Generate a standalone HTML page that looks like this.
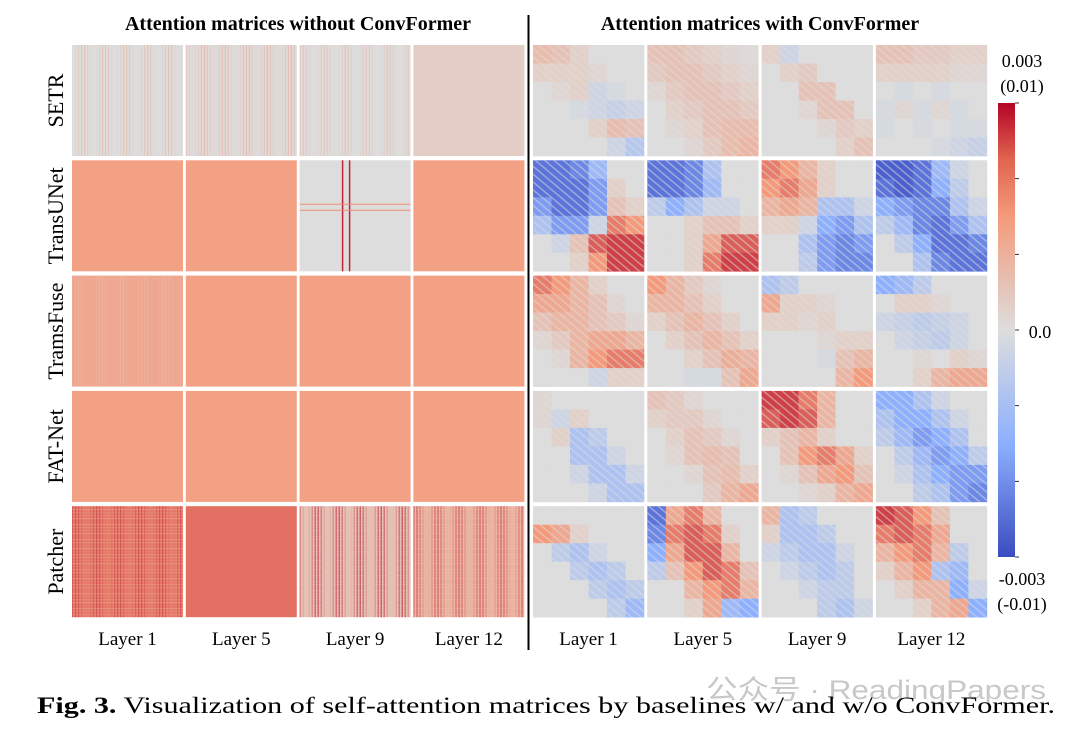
<!DOCTYPE html>
<html><head><meta charset="utf-8"><style>
body{margin:0;background:#fff;width:1080px;height:733px;overflow:hidden}
svg text{font-family:"Liberation Serif",serif}
</style></head><body>
<svg id="fig" width="1080" height="733" viewBox="0 0 1080 733" xmlns="http://www.w3.org/2000/svg">
<defs>
<pattern id="tex" width="6" height="6" patternUnits="userSpaceOnUse" patternTransform="rotate(40)">
<rect x="0" y="0" width="6" height="1.5" fill="#dddddd" opacity="0.5"/>
</pattern>
<linearGradient id="cbar" x1="0" y1="0" x2="0" y2="1">
<stop offset="0" stop-color="#b40426"/><stop offset="0.125" stop-color="#e0654f"/><stop offset="0.25" stop-color="#f49a7b"/>
<stop offset="0.5" stop-color="#dddddd"/><stop offset="0.75" stop-color="#8db0fe"/>
<stop offset="1" stop-color="#3b4cc0"/></linearGradient>
</defs>
<text x="298" y="30" font-size="20" font-weight="bold" text-anchor="middle">Attention matrices without ConvFormer</text>
<text x="760" y="30" font-size="20" font-weight="bold" text-anchor="middle">Attention matrices with ConvFormer</text>
<line x1="528.5" y1="15" x2="528.5" y2="650" stroke="#000" stroke-width="2"/>
<g id="cells"></g>
<rect x="998" y="103" width="17" height="454" fill="url(#cbar)"/>
<g id="cbticks"></g>
<text x="1022" y="67" font-size="18" text-anchor="middle">0.003</text>
<text x="1022" y="92" font-size="18" text-anchor="middle">(0.01)</text>
<text x="1040" y="338" font-size="18" text-anchor="middle">0.0</text>
<text x="1022" y="585" font-size="18" text-anchor="middle">-0.003</text>
<text x="1022" y="610" font-size="18" text-anchor="middle">(-0.01)</text>
<text x="706" y="699" font-size="27" fill="#c8c8c8" textLength="340" lengthAdjust="spacingAndGlyphs" style="font-family:'Liberation Sans','Noto Sans CJK SC',sans-serif">公众号 · ReadingPapers</text>
<text x="37" y="713" font-size="23" textLength="1018" lengthAdjust="spacingAndGlyphs"><tspan font-weight="bold">Fig. 3.</tspan> Visualization of self-attention matrices by baselines w/ and w/o ConvFormer.</text>
</svg>
<script>
const models=["SETR","TransUNet","TramsFuse","FAT-Net","Patcher"];
const layers=["Layer 1","Layer 5","Layer 9","Layer 12"];
const leftBase=[[0.0,0.02,0.0,0.12],[0.45,0.45,0.0,0.45],[0.4,0.45,0.45,0.45],[0.45,0.45,0.45,0.45],[0.6,0.64,0.2,0.3]];
const leftStripe=[[0.45,0.5,0.4,0],[0,0,0.9,0],[0.3,0,0,0],[0,0,0,0],[0.8,0,0.9,0.8]];
const rightGrid=[
[[[.25,.2,.1,0,0,0],[.1,.1,.1,.05,0,0],[0,.05,.1,-.1,-.05,0],[0,0,-.05,-.1,-.15,-.1],[0,0,0,.1,.25,.2],[0,0,0,0,-.1,-.25]],
 [[.2,.2,.15,.1,.05,.02],[.15,.2,.2,.15,.1,.05],[.05,.15,.2,.2,.15,.1],[0,.1,.15,.2,.2,.15],[0,.05,.1,.2,.25,.25],[0,0,.05,.15,.25,.3]],
 [[.1,-.1,0,0,0,0],[0,.1,.15,0,0,0],[0,0,.2,.2,0,0],[0,0,.05,.2,.2,0],[0,0,0,.05,.15,.1],[0,0,0,0,.1,.2]],
 [[.2,.2,.15,.15,.1,.1],[.1,.1,.1,.1,.05,.05],[0,-.05,0,-.05,0,0],[-.05,.05,-.05,.05,-.05,0],[-.05,0,-.05,0,-.05,-.05],[0,0,0,-.05,-.1,-.15]]],
[[[-.8,-.8,-.7,-.4,0,0],[-.8,-.8,-.8,-.6,.1,0],[-.6,-.8,-.8,-.6,.2,.1],[-.3,-.6,-.6,-.1,.6,.5],[0,-.1,.2,.7,.8,.8],[0,0,.1,.5,.8,.8]],
 [[-.8,-.8,-.7,-.3,0,0],[-.8,-.8,-.7,-.4,0,0],[-.2,-.5,-.3,-.1,-.1,0],[0,0,.1,.2,.2,.1],[0,0,.1,.4,.7,.7],[0,0,.1,.6,.8,.8]],
 [[.6,.5,.3,.1,0,0],[.5,.6,.4,.1,0,0],[.3,.4,.3,-.3,-.3,-.1],[.1,.1,-.1,-.5,-.6,-.3],[0,0,-.3,-.6,-.7,-.6],[0,0,-.2,-.6,-.7,-.7]],
 [[-.9,-.9,-.8,-.4,-.1,0],[-.8,-.9,-.8,-.5,-.2,0],[-.5,-.6,-.7,-.7,-.3,-.1],[-.2,-.4,-.7,-.8,-.6,-.3],[0,-.2,-.5,-.8,-.8,-.7],[0,0,-.3,-.7,-.8,-.8]]],
[[[.6,.5,.3,.1,0,0],[.4,.4,.3,.2,.05,0],[.2,.3,.3,.2,.15,.05],[.05,.15,.3,.4,.4,.3],[0,.05,.3,.5,.6,.6],[0,0,0,-.1,.1,.1]],
 [[.5,.3,.15,.05,0,0],[.3,.3,.2,.1,0,0],[.1,.2,.3,.2,.1,0],[0,.1,.2,.3,.2,.1],[0,0,.1,.2,.35,.3],[0,0,-.05,-.05,.2,.4]],
 [[-.3,-.2,0,0,0,0],[.4,.1,.1,.05,0,0],[.1,.1,.05,.1,0,0],[0,0,0,.05,.1,.1],[0,0,0,-.05,.2,.3],[0,0,0,0,.3,.5]],
 [[-.5,-.4,-.2,0,0,0],[0,.1,.1,.05,0,0],[-.1,-.15,-.2,-.15,-.1,0],[0,-.1,-.15,-.2,-.1,0],[0,0,.05,0,.1,.05],[0,0,.1,.3,.4,.4]]],
[[[.05,0,0,0,0,0],[.05,-.1,.1,0,0,0],[0,.1,-.3,-.2,0,0],[0,0,-.3,-.3,-.1,0],[0,0,-.1,-.3,-.3,-.1],[0,0,0,-.1,-.3,-.3]],
 [[.2,.15,.05,0,0,0],[.1,.15,.15,.05,0,0],[0,.1,.2,.15,.05,0],[0,.05,.2,.25,.2,0],[0,0,.05,.2,.25,.1],[0,0,0,.15,.3,.4]],
 [[.8,.8,.6,.3,0,0],[.7,.8,.7,.3,0,0],[.1,.2,.3,.1,0,0],[0,.2,.5,.6,.4,.1],[0,.05,.2,.4,.5,.2],[0,0,.05,.1,.3,.4]],
 [[-.5,-.5,-.3,-.1,0,0],[-.3,-.5,-.5,-.3,-.1,0],[-.2,-.4,-.6,-.5,-.3,0],[0,-.2,-.4,-.6,-.5,-.2],[0,-.1,-.3,-.5,-.6,-.6],[0,0,-.2,-.3,-.6,-.7]]],
[[[0,0,0,0,0,0],[.5,.4,.1,0,0,0],[0,-.2,-.3,-.1,0,0],[0,0,-.2,-.3,-.2,0],[0,0,0,-.2,-.3,-.2],[0,0,0,0,-.2,-.4]],
 [[-.8,.4,.6,.3,0,0],[-.7,.6,.7,.6,.1,0],[-.5,.4,.7,.7,.3,0],[-.2,.2,.5,.7,.6,.2],[0,0,.3,.5,.6,.3],[0,0,.1,.4,-.4,-.5]],
 [[.3,-.3,-.2,0,0,0],[.1,-.3,-.3,-.2,0,0],[-.1,-.2,-.3,-.3,-.1,0],[0,-.1,-.2,-.3,-.2,0],[0,0,-.1,-.2,-.2,0],[0,0,0,-.2,-.3,-.1]],
 [[.8,.7,.5,.2,0,0],[.6,.7,.6,.4,0,0],[.3,.5,.6,.3,-.2,0],[.1,.3,.5,-.3,-.4,0],[0,.1,.3,.3,-.5,-.1],[0,0,.1,.3,.4,-.5]]]
];
const cbTicks=[1,0.667,0.333,0,-0.333,-0.667,-1];

const NS="http://www.w3.org/2000/svg";
const stops=[[-1,[59,76,192]],[-0.5,[141,176,254]],[0,[221,221,221]],[0.5,[244,154,123]],[1,[180,4,38]]];
function cmap(v){v=Math.max(-1,Math.min(1,v));for(let i=0;i<stops.length-1;i++){const a=stops[i],b=stops[i+1];if(v<=b[0]){const t=(v-a[0])/(b[0]-a[0]);const c=a[1].map((x,k)=>Math.round(x+(b[1][k]-x)*t));return `rgb(${c})`;}}return "rgb(180,4,38)";}
const S=111;
function rowY(r){return 45+r*115.3;}
function leftX(c){return 72+c*113.8;}
function rightX(c){return 533+c*114.3;}
function mk(tag,attrs,parent){const e=document.createElementNS(NS,tag);for(const k in attrs)e.setAttribute(k,attrs[k]);parent.appendChild(e);return e;}
const g=document.getElementById('cells');
models.forEach((m,r)=>{
  const t=mk('text',{x:0,y:0,'font-size':22,'text-anchor':'middle',transform:`translate(63,${rowY(r)+S/2}) rotate(-90)`},g);
  
  
  t.textContent=m;
  layers.forEach((l,c)=>{
    const x=leftX(c),y=rowY(r);
    const lg=mk('g',{},g);
    
    
    mk('rect',{x,y,width:S,height:S,fill:cmap(leftBase[r][c])},lg);
    const s=leftStripe[r][c];
    if(s>0){
      if(r===1&&c===2){
        [[x+43,y,x+43,y+S],[x+50,y,x+50,y+S]].forEach(p=>mk('line',{x1:p[0],y1:p[1],x2:p[2],y2:p[3],stroke:cmap(s),'stroke-width':1.5},lg));
        [[x,y+44,x+S,y+44],[x,y+50,x+S,y+50]].forEach(p=>mk('line',{x1:p[0],y1:p[1],x2:p[2],y2:p[3],stroke:cmap(s*0.6),'stroke-width':1},lg));
      } else {
        const k=r===0?0.45:0.8;
        for(let i=0;i<37;i++){
          const a=Math.pow(Math.abs(Math.sin(i*2.7+r*1.3+c)),2);
          mk('rect',{x:x+i*3,y,width:1.2,height:S,fill:cmap(s),opacity:(a*k).toFixed(2)},lg);
        }
        if(r===4){for(let j=0;j<37;j++){const a=Math.abs(Math.sin(j*1.9+c));mk('rect',{x,y:y+j*3,width:S,height:1,fill:cmap(s*0.3),opacity:(a*0.4).toFixed(2)},lg);}}
      }
    }
    const rx=rightX(c);
    const rg=mk('g',{},g);
    
    
    const grid=rightGrid[r][c],n=grid.length,cs=S/n;
    grid.forEach((row,i)=>row.forEach((v,j)=>{
      mk('rect',{x:(rx+j*cs).toFixed(2),y:(y+i*cs).toFixed(2),width:(cs+0.3).toFixed(2),height:(cs+0.3).toFixed(2),fill:cmap(v)},rg);
    }));
    mk('rect',{x:rx,y,width:S,height:S,fill:'url(#tex)'},rg);
    if(r===4){
      const lt=mk('text',{x:leftX(c)+S/2,y:645,'font-size':19,'text-anchor':'middle'},g);
      
      
      lt.textContent=l;
      const rt=mk('text',{x:rx+S/2,y:645,'font-size':19,'text-anchor':'middle'},g);
      
      
      rt.textContent=l;
    }
  });
});
const tg=document.getElementById('cbticks');
cbTicks.forEach(v=>{
  const yy=103+(1-v)/2*454;
  const ln=mk('line',{x1:1015,y1:yy,x2:1019,y2:yy,stroke:'#333','stroke-width':1},tg);
  
  
});
</script>
</body></html>
